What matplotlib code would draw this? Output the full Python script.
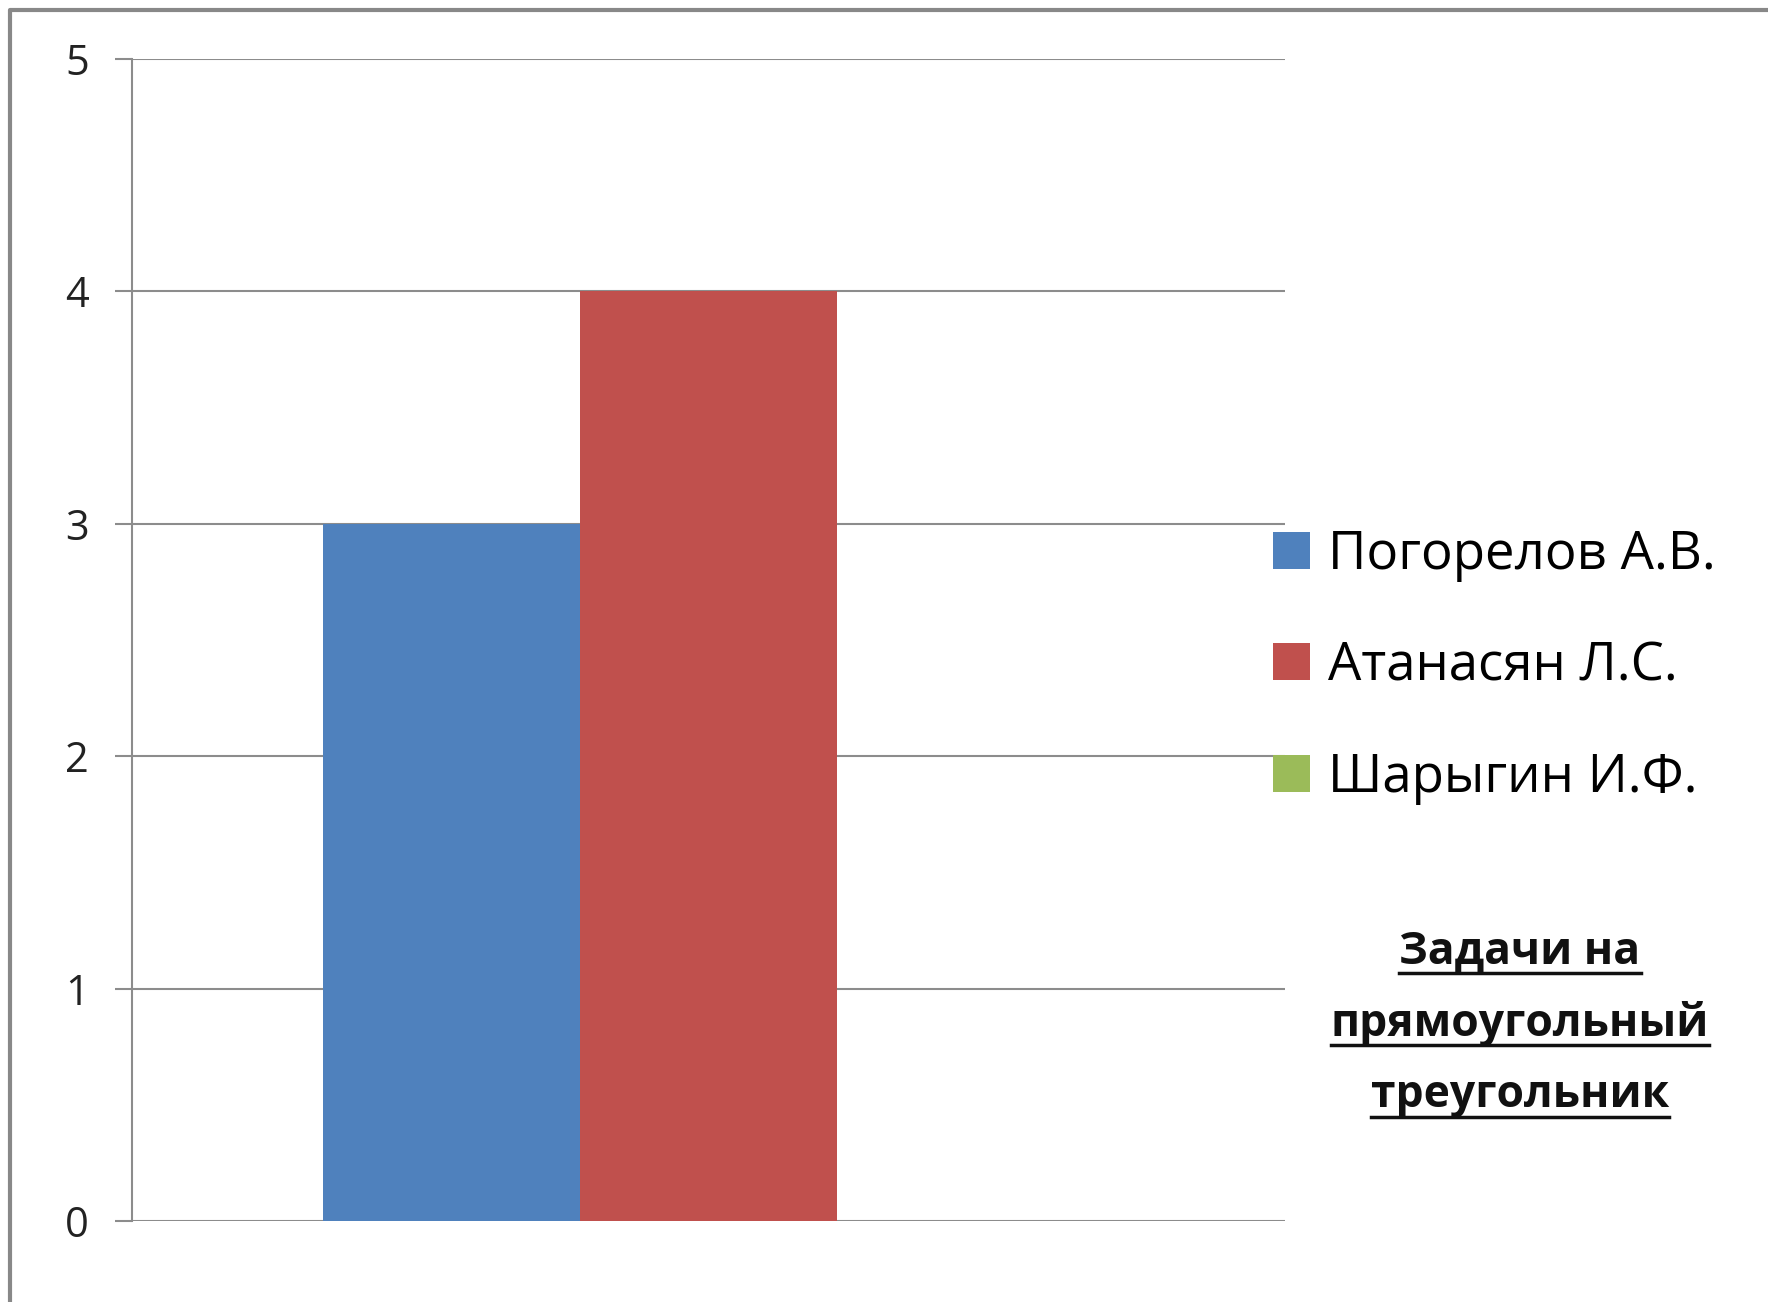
import matplotlib.pyplot as plt
from matplotlib.lines import Line2D
from matplotlib.patches import Patch

plt.rcParams['font.family'] = ['Open Sans', 'DejaVu Sans']

authors = ['Погорелов А.В.', 'Атанасян Л.С.', 'Шарыгин И.Ф.']
tasks = [3, 4, 0]
colors = ['#4F81BD', '#C0504D', '#9BBB59']
yticks = [0, 1, 2, 3, 4, 5]
topic = ['Задачи на', 'прямоугольный', 'треугольник']

W, H = 1768, 1302
fig = plt.figure(figsize=(W / 100, H / 100), dpi=100)
ax = fig.add_axes([132 / W, 1 - 1221 / H, (1285 - 132) / W, (1221 - 59) / H])

# one category, three series side by side
bw = 0.223
for i, (name, val, c) in enumerate(zip(authors, tasks, colors)):
    ax.bar(0.5 + (i - 1) * bw, val, width=bw, color=c, label=name, zorder=3)

ax.set_xlim(0, 1)
ax.set_ylim(0, 5)
ax.set_yticks(yticks)
ax.set_xticks([])
ax.yaxis.grid(True, color='#8c8c8c', linewidth=1.5, zorder=0)
for s in ['top', 'right', 'bottom']:
    ax.spines[s].set_visible(False)
ax.spines['left'].set_color('#8c8c8c')
ax.spines['left'].set_linewidth(1.5)
ax.tick_params(axis='y', length=12, width=1.5, color='#8c8c8c', pad=19,
               labelsize=30, labelcolor='#222222')

handles = [Patch(facecolor=c, edgecolor='none') for c in colors]
fig.legend(handles, authors, loc='upper left', bbox_to_anchor=(1273 / W, 1 - 528 / H),
           frameon=False, fontsize=38, handlelength=0.7, handleheight=0.7,
           handletextpad=0.35, labelspacing=1.1, borderpad=0, borderaxespad=0)

# underlined bold caption
fig.canvas.draw()
renderer = fig.canvas.get_renderer()
for k, line in enumerate(topic):
    t = fig.text(1520 / W, 1 - (952 + k * 72) / H, line, ha='center', va='center',
                 fontsize=32, fontweight='bold', color='#111111')
    bb = t.get_window_extent(renderer)
    y = bb.y0 + 2
    fig.add_artist(Line2D([bb.x0 / W, bb.x1 / W], [y / H, y / H], color='#111111',
                          linewidth=2.5, transform=fig.transFigure))

# frame around the slide area
fig.add_artist(Line2D([10 / W, 10 / W, 1], [0, 1 - 10 / H, 1 - 10 / H],
                      color='#888888', linewidth=3, transform=fig.transFigure))

fig.savefig('out.png', dpi=100)
